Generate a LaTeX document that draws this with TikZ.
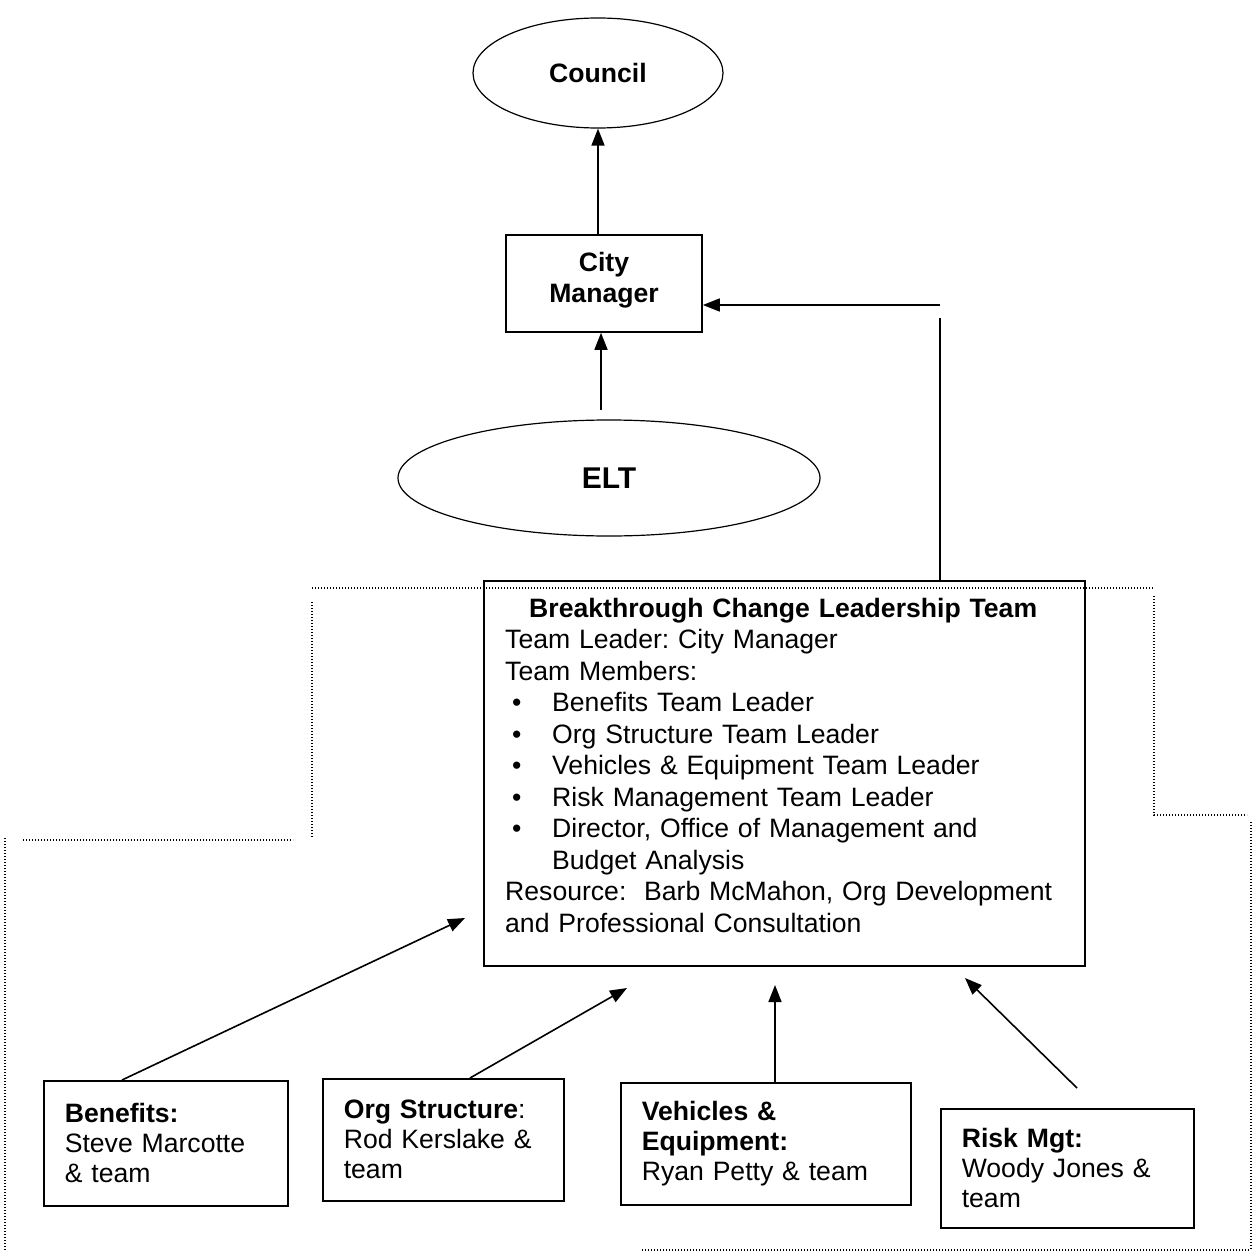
\documentclass[tikz,border=0pt]{standalone}
\usepackage{fontspec}
\setmainfont{Liberation Sans}
\usetikzlibrary{shapes.geometric,arrows.meta}
\begin{document}
\frenchspacing
\begin{tikzpicture}[x=1pt,y=-1pt,
  every node/.style={font=\fontsize{26.6}{31.5}\selectfont},
  box/.style={draw, line width=1.6pt, rectangle, inner sep=0pt},
  oval/.style={draw, line width=1.2pt, ellipse, inner sep=0pt},
  arr/.style={line width=1.6pt, -{Triangle[length=17pt,width=13pt]}},
  plain/.style={line width=1.6pt},
  dots/.style={line width=1.4pt, dash pattern=on 1.2pt off 1.8pt},
  team/.style={box, align=left, inner xsep=21pt, anchor=north west, font=\fontsize{26.6}{30}\selectfont},
]
\useasboundingbox (0,0) rectangle (1255,1257);

% dotted outline
\draw[dots] (312,588) -- (1154,588);
\draw[dots] (312,602) -- (312,838);
\draw[dots] (23,840) -- (293,840);
\draw[dots] (5,838) -- (5,1250);
\draw[dots] (1154,596) -- (1154,815) -- (1247,815);
\draw[dots] (1251,822) -- (1251,1250);
\draw[dots] (642,1250) -- (1250,1250);

% top nodes
\node[oval, minimum width=250, minimum height=110, font=\bfseries\fontsize{26.6}{31.5}\selectfont] (council) at (598,73) {Council};
\node[box, minimum width=196, minimum height=97, align=center, font=\bfseries\fontsize{26.6}{31}\selectfont] (cm) at (604,283.5) {City\\Manager\\[-19pt]\mbox{}};
\node[oval, minimum width=422, minimum height=116, font=\bfseries\fontsize{30}{36}\selectfont] (elt) at (609,478) {ELT};

% BCLT
\node[box, minimum width=601, minimum height=385, anchor=north west] (bclt) at (483,580) {};
\node[anchor=north west, inner sep=0pt, text width=556pt, align=left] (bcltText) at (505,598) {%
\makebox[556pt][c]{\textbf{Breakthrough Change Leadership Team}}\\
Team Leader: City Manager\\
Team Members:\\
\hspace*{7pt}\makebox[40pt][l]{\textbullet}Benefits Team Leader\\
\hspace*{7pt}\makebox[40pt][l]{\textbullet}Org Structure Team Leader\\
\hspace*{7pt}\makebox[40pt][l]{\textbullet}Vehicles \& Equipment Team Leader\\
\hspace*{7pt}\makebox[40pt][l]{\textbullet}Risk Management Team Leader\\
\hspace*{7pt}\makebox[40pt][l]{\textbullet}Director, Office of Management and\\
\hspace*{47pt}Budget Analysis\\
Resource:\ \ Barb McMahon, Org Development\\
and Professional Consultation};

% team boxes
\node[team, text width=202pt, minimum height=125] (benefits) at (43,1080) {\textbf{Benefits:}\\Steve Marcotte\\\& team};
\node[team, text width=199pt, minimum height=122] (org) at (322,1078) {\textbf{Org Structure}:\\Rod Kerslake \&\\team};
\node[team, text width=248pt, minimum height=122] (veh) at (620,1082) {\textbf{Vehicles \&}\\\textbf{Equipment:}\\Ryan Petty \& team};
\node[team, text width=211pt, minimum height=119] (risk) at (940,1108) {\textbf{Risk Mgt:}\\Woody Jones \&\\team};

% connectors
\draw[arr] (council.south |- cm.north) -- (council.south);
\coordinate (eltTop) at (601,410);
\draw[arr] (eltTop) -- (eltTop |- cm.south);
\coordinate (j1) at (940,318);
\coordinate (j2) at (940,305);
\draw[plain] (bclt.north -| j1) -- (j1);
\draw[arr] (j2) -- (j2 -| cm.east);

\coordinate (s1) at (122,1080);
\coordinate (e1) at (465,918);
\coordinate (s2) at (470,1078);
\coordinate (e2) at (627,988);
\coordinate (s3) at (775,1082);
\coordinate (e3) at (775,985);
\coordinate (s4) at (1077,1088);
\coordinate (e4) at (965,978);
\draw[arr] (s1 |- benefits.north) -- (e1);
\draw[arr] (s2 |- org.north) -- (e2);
\draw[arr] (s3 |- veh.north) -- (e3);
\draw[arr] (s4) -- (e4);
\end{tikzpicture}
\end{document}
